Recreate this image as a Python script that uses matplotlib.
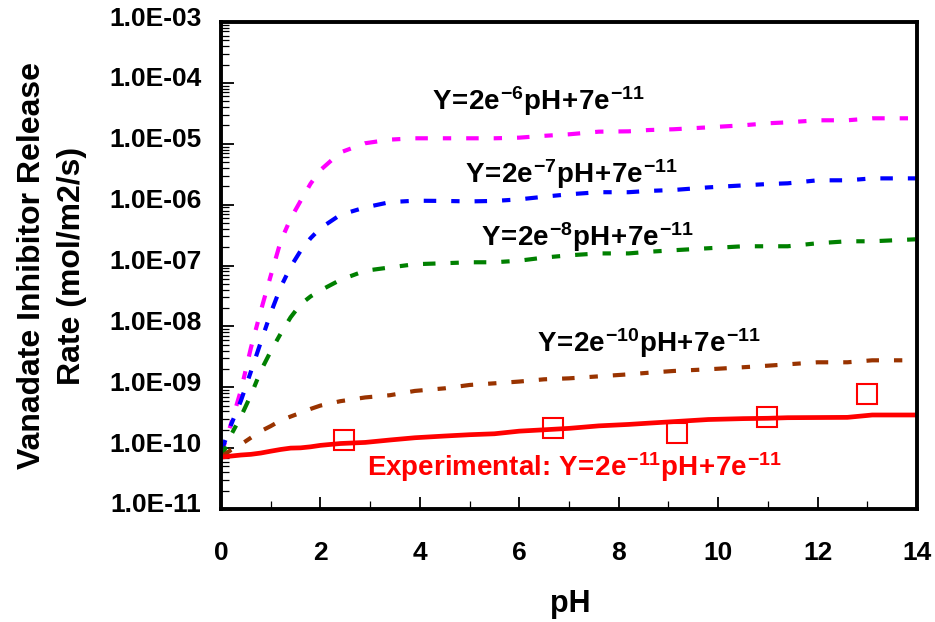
import numpy as np
import matplotlib
matplotlib.use("Agg")
from matplotlib import pyplot as plt
from matplotlib.ticker import FuncFormatter, MultipleLocator, LogLocator
from matplotlib.transforms import ScaledTranslation

plt.rcParams['font.family'] = ['Liberation Sans', 'DejaVu Sans']
plt.rcParams['font.weight'] = 'bold'
plt.rcParams['mathtext.fontset'] = 'custom'
plt.rcParams['mathtext.rm'] = 'Liberation Sans:bold'
plt.rcParams['mathtext.it'] = 'Liberation Sans:bold'
plt.rcParams['mathtext.bf'] = 'Liberation Sans:bold'

# pH grid shared by the model curves
ph = [0, 0.2, 0.4, 0.6, 0.8, 1.0, 1.2, 1.4, 1.6, 1.8, 2.0, 2.4, 2.9, 3.4, 3.9,
      4.5, 5.0, 5.5, 6.0, 6.5, 7.0, 7.6, 8.2, 8.6, 9.1, 9.8, 10.5, 11.0, 11.4,
      12.0, 12.6, 13.1, 14.0]

rate_2e6 = [7.9e-11, 2.5e-10, 8.9e-10, 4.4e-9, 1.8e-8, 6.8e-8, 2.5e-7, 5.9e-7,
            1.15e-6, 2.2e-6, 3.7e-6, 7.2e-6, 1.02e-5, 1.17e-5, 1.23e-5,
            1.23e-5, 1.23e-5, 1.23e-5, 1.26e-5, 1.35e-5, 1.43e-5, 1.58e-5,
            1.6e-5, 1.68e-5, 1.73e-5, 1.86e-5, 2.01e-5, 2.17e-5, 2.25e-5,
            2.43e-5, 2.43e-5, 2.62e-5, 2.62e-5]

rate_2e7 = [8.7e-11, 2.4e-10, 6.0e-10, 1.8e-9, 5.5e-9, 1.66e-8, 4.4e-8, 9.5e-8,
            1.74e-7, 2.8e-7, 4.1e-7, 6.8e-7, 9.0e-7, 1.10e-6, 1.16e-6,
            1.15e-6, 1.13e-6, 1.15e-6, 1.22e-6, 1.35e-6, 1.48e-6, 1.6e-6,
            1.6e-6, 1.68e-6, 1.74e-6, 1.92e-6, 2.07e-6, 2.18e-6, 2.24e-6,
            2.51e-6, 2.51e-6, 2.7e-6, 2.7e-6]

rate_2e8 = [6.9e-11, 1.64e-10, 3.3e-10, 7.4e-10, 1.86e-9, 3.9e-9, 7.6e-9, 1.41e-8,
            2.3e-8, 3.1e-8, 3.9e-8, 5.8e-8, 8.2e-8, 9.3e-8, 1.05e-7,
            1.09e-7, 1.13e-7, 1.13e-7, 1.2e-7, 1.35e-7, 1.47e-7, 1.58e-7,
            1.58e-7, 1.68e-7, 1.78e-7, 1.92e-7, 2.07e-7, 2.07e-7, 2.07e-7,
            2.32e-7, 2.5e-7, 2.5e-7, 2.7e-7]

rate_2e10 = [7.2e-11, 9.3e-11, 1.15e-10, 1.48e-10, 1.9e-10, 2.3e-10, 2.85e-10,
             3.3e-10, 3.8e-10, 4.4e-10, 5.0e-10, 5.9e-10, 6.8e-10, 7.4e-10,
             8.7e-10, 9.6e-10, 1.09e-9, 1.16e-9, 1.24e-9, 1.35e-9, 1.4e-9,
             1.51e-9, 1.63e-9, 1.73e-9, 1.85e-9, 1.97e-9, 2.13e-9, 2.26e-9,
             2.38e-9, 2.57e-9, 2.57e-9, 2.77e-9, 2.77e-9]

rate_2e11 = [7.1e-11, 7.4e-11, 7.7e-11, 7.9e-11, 8.3e-11, 8.9e-11, 9.5e-11,
             1.0e-10, 1.01e-10, 1.05e-10, 1.11e-10, 1.19e-10, 1.24e-10,
             1.36e-10, 1.48e-10, 1.58e-10, 1.66e-10, 1.72e-10, 1.9e-10,
             2.0e-10, 2.11e-10, 2.32e-10, 2.45e-10, 2.57e-10, 2.72e-10,
             2.95e-10, 3.05e-10, 3.09e-10, 3.16e-10, 3.18e-10, 3.2e-10,
             3.5e-10, 3.5e-10]

# measured release rates
exp_ph = [2.48, 6.68, 9.17, 10.98, 12.99]
exp_rate = [1.36e-10, 2.11e-10, 1.75e-10, 3.28e-10, 7.7e-10]

fig = plt.figure(figsize=(9.35, 6.22), dpi=100)
ax = fig.add_axes([0.2364, 0.1817, 0.7443, 0.7829])

dash = (0, (3, 3.6, 2, 3.6))
lw = 3.0
ax.plot(ph, rate_2e6, color='#FF00FF', lw=lw, linestyle=dash)
ax.plot(ph, rate_2e7, color='#0000FF', lw=lw, linestyle=dash)
ax.plot(ph, rate_2e8, color='#008000', lw=lw, linestyle=dash)
ax.plot(ph, rate_2e10, color='#993300', lw=lw, linestyle=dash)
ax.plot(ph, rate_2e11, color='#FF0000', lw=3.4, solid_capstyle='butt')
ax.plot(exp_ph, exp_rate, linestyle='none', marker='s', markersize=14.5,
        markerfacecolor='none', markeredgecolor='#FF0000', markeredgewidth=1.5)

ax.set_yscale('log')
ax.set_xlim(0, 14)
ax.set_ylim(1e-11, 1e-3)

ax.xaxis.set_major_locator(MultipleLocator(2))
ax.xaxis.set_minor_locator(MultipleLocator(1))
ax.yaxis.set_major_locator(LogLocator(base=10, numticks=20))
ax.yaxis.set_minor_locator(LogLocator(base=10, subs=np.arange(2, 10), numticks=20))
ax.yaxis.set_major_formatter(FuncFormatter(lambda v, p: "{:.1E}".format(v)))

ax.tick_params(axis='both', which='major', direction='in', length=9, width=1.3,
               labelsize=19)
ax.tick_params(axis='both', which='minor', direction='in', length=6, width=0.9)
ax.tick_params(axis='x', which='major', pad=23)
ax.tick_params(axis='y', which='major', pad=14)
ax.tick_params(axis='y', which='minor', labelleft=False)
for lab in ax.get_yticklabels():
    lab.set_transform(lab.get_transform() + ScaledTranslation(0, 0.06, fig.dpi_scale_trans))

for side in ax.spines.values():
    side.set_linewidth(2.8)

lab_size = 20
ax.text(4.24, 3.58e-5, r"$Y\!=\!2e^{-6}pH\!+\!7e^{-11}$", fontsize=lab_size,
        color='black', ha='left', va='baseline')
ax.text(4.91, 2.24e-6, r"$Y\!=\!2e^{-7}pH\!+\!7e^{-11}$", fontsize=lab_size,
        color='black', ha='left', va='baseline')
ax.text(5.225, 2.11e-7, r"$Y\!=\!2e^{-8}pH\!+\!7e^{-11}$", fontsize=lab_size,
        color='black', ha='left', va='baseline')
ax.text(6.365, 3.75e-9, r"$Y\!=\!2e^{-10}pH\!+\!7e^{-11}$", fontsize=lab_size,
        color='black', ha='left', va='baseline')
ax.text(2.94, 3.48e-11, r"Experimental: $Y\!=\!2e^{-11}pH\!+\!7e^{-11}$",
        fontsize=lab_size, color='#FF0000', ha='left', va='baseline')

fig.text(570 / 935, 1 - 604 / 622, "pH", fontsize=22, ha='center', va='center')
fig.text(52 / 935, 1 - 266 / 622, "Vanadate Inhibitor Release\nRate (mol/m2/s)",
         fontsize=23, rotation=90, ha='center', va='center',
         multialignment='center', linespacing=1.45)

plt.savefig("out.png", dpi=100)
